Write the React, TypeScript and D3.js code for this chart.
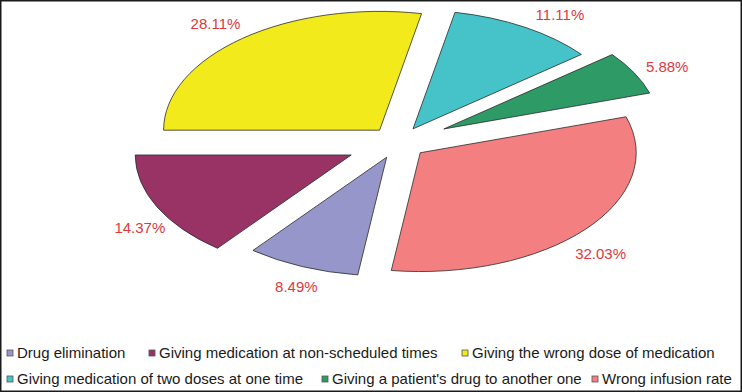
import { arc, pie, PieArcDatum } from "d3";

const categories = [
  "Drug elimination",
  "Giving medication at non-scheduled times",
  "Giving the wrong dose of medication",
  "Giving medication of two doses at one time",
  "Giving a patient's drug to another one",
  "Wrong infusion rate",
];
const values = [8.49, 14.37, 28.11, 11.11, 5.88, 32.03];
const labels = ["8.49%", "14.37%", "28.11%", "11.11%", "5.88%", "32.03%"];
const colors = ["#9696ca", "#993366", "#f2ea1a", "#45c3c8", "#2e9b66", "#f47f80"];

const W = 742;
const H = 392;
const cx = 398;
const cy = 142.5;
const R = 216;
const tilt = 0.55; // vertical squash of the pie
const explode = [29, 52, 29, 29, 52, 29];
// label offset from the outer middle of each slice (x, baseline)
const labelNudge: [number, number][] = [
  [-6, 25],
  [-17, 26],
  [-27, -9],
  [35, -7],
  [33, -1],
  [15, 30],
];

// legend rows: which categories go where, and x of the swatch
const legendRows = [
  { y: 358, items: [0, 1, 2], xs: [7, 149, 462] },
  { y: 384, items: [3, 4, 5], xs: [7, 322, 592] },
];

const total = values.reduce((a, b) => a + b, 0);
// first slice starts so the yellow / maroon edge sits at 9 o'clock
const start = 1.5 * Math.PI - ((values[0] + values[1]) / total) * 2 * Math.PI;

const App = () => {
  const arcs = pie<number>()
    .sort(null)
    .startAngle(start)
    .endAngle(start + 2 * Math.PI)(values);

  const slice = arc<PieArcDatum<number>>().innerRadius(0).outerRadius(R);

  const parts = arcs.map((d, i) => {
    const mid = (d.startAngle + d.endAngle) / 2;
    const ox = cx + explode[i] * Math.sin(mid);
    const oy = cy - explode[i] * Math.cos(mid) * tilt;
    const mx = ox + R * Math.sin(mid);
    const my = oy - R * Math.cos(mid) * tilt;
    return (
      <g key={categories[i]}>
        <path
          d={slice(d)!}
          transform={`translate(${ox},${oy}) scale(1,${tilt})`}
          fill={colors[i]}
          stroke="#2b2b2b"
          strokeWidth={0.8}
          vectorEffect="non-scaling-stroke"
        />
        <text
          x={mx + labelNudge[i][0]}
          y={my + labelNudge[i][1]}
          textAnchor="middle"
          fill="#e0393e"
          fontSize={15}
        >
          {labels[i]}
        </text>
      </g>
    );
  });

  return (
    <svg
      width={W}
      height={H}
      style={{ position: "absolute", left: 0, top: 0 }}
      fontFamily="'Liberation Sans', Arial, sans-serif"
    >
      <rect x={0} y={0} width={W} height={H} fill="#fff" />
      {parts}
      {legendRows.map((row) =>
        row.items.map((ci, j) => (
          <g key={categories[ci]}>
            <rect
              x={row.xs[j]}
              y={row.y - 8}
              width={6}
              height={6}
              fill={colors[ci]}
              stroke="#555"
              strokeWidth={0.8}
            />
            <text x={row.xs[j] + 10} y={row.y} fontSize={15} fill="#1a1a1a">
              {categories[ci]}
            </text>
          </g>
        ))
      )}
      <rect
        x={0.75}
        y={0.75}
        width={W - 1.5}
        height={H - 1.5}
        fill="none"
        stroke="#1a1a1a"
        strokeWidth={1.5}
      />
    </svg>
  );
};

export default App;
